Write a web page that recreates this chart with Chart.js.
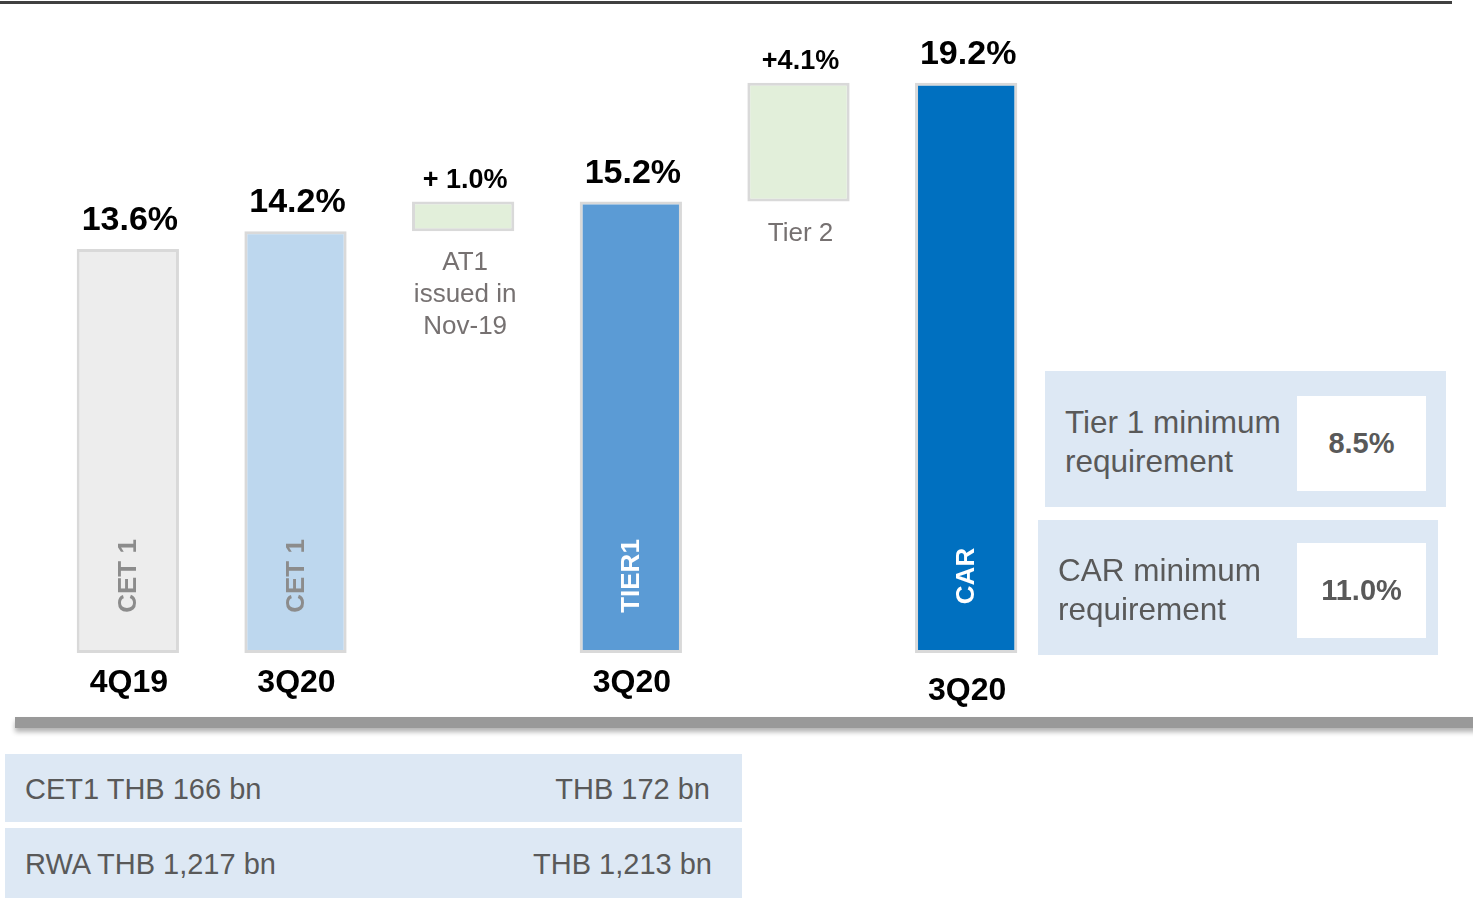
<!DOCTYPE html>
<html>
<head>
<meta charset="utf-8">
<script src="https://cdn.jsdelivr.net/npm/chart.js@4/dist/chart.umd.min.js"></script>
<style>
  body { margin: 0; background: #fff; font-family: "Liberation Sans", Arial, sans-serif; }
  #wrap { position: relative; width: 1473px; height: 900px; overflow: hidden; }
  #chart { position: absolute; left: 0; top: 0; }
  .topline { position: absolute; left: 0; top: 1px; width: 1452px; height: 3px; background: #404040; }
  .shadow { position: absolute; left: 15px; top: 717px; width: 1470px; height: 11px; background: #999;
            box-shadow: 0 4px 5px rgba(0,0,0,0.3); }
  .box { position: absolute; background: #dde8f4; color: #595959; }
  .box .txt { position: absolute; font-size: 31.5px; line-height: 39px; }
  .box .val { position: absolute; background: #fff; font-weight: bold; font-size: 29px;
              display: flex; align-items: center; justify-content: center; }
  .row { position: absolute; left: 5px; width: 737px; background: #dde8f4; color: #595959; font-size: 29px; }
  .row span { position: absolute; top: 50%; transform: translateY(-46%); }
</style>
</head>
<body>
<div id="wrap">
  <div class="topline"></div>
  <canvas id="chart" width="1060" height="720"></canvas>
  <div class="shadow"></div>

  <div class="box" style="left:1045px; top:371px; width:401px; height:136px;">
    <div class="txt" style="left:20px; top:32px;">Tier 1 minimum<br>requirement</div>
    <div class="val" style="left:252px; top:25px; width:129px; height:95px;">8.5%</div>
  </div>
  <div class="box" style="left:1038px; top:520px; width:400px; height:135px;">
    <div class="txt" style="left:20px; top:31px;">CAR minimum<br>requirement</div>
    <div class="val" style="left:259px; top:23px; width:129px; height:95px;">11.0%</div>
  </div>

  <div class="row" style="top:754px; height:68px;">
    <span style="left:20px;">CET1 THB 166 bn</span>
    <span style="right:32px;">THB 172 bn</span>
  </div>
  <div class="row" style="top:828px; height:70px;">
    <span style="left:20px;">RWA THB 1,217 bn</span>
    <span style="right:30px;">THB 1,213 bn</span>
  </div>
</div>

<script>
// capital ratios (%), floating bars are [start, end]
const categories = ["4Q19", "3Q20", "", "3Q20", "", "3Q20"];
const barRanges = [[0, 13.6], [0, 14.2], [14.2, 15.2], [0, 15.2], [15.2, 19.2], [0, 19.2]];
const valueLabels = ["13.6%", "14.2%", "+ 1.0%", "15.2%", "+4.1%", "19.2%"];
const innerLabels = ["CET 1", "CET 1", "", "TIER1", "", "CAR"];
const noteLabels = ["", "", ["AT1", "issued in", "Nov-19"], "", ["Tier 2"], ""];

const fills = ["#ededed", "#bdd7ee", "#e2efda", "#5b9bd5", "#e2efda", "#0070c0"];
const innerColors = ["#8c8c8c", "#8c8c8c", "", "#ffffff", "", "#ffffff"];

const FONT = '"Liberation Sans", Arial, sans-serif';

const labelPlugin = {
  id: "labels",
  afterDatasetsDraw(chart) {
    const ctx = chart.ctx;
    const meta = chart.getDatasetMeta(0);
    meta.data.forEach(function(bar, i) {
      const floating = barRanges[i][0] > 0;
      ctx.save();
      ctx.textAlign = "center";
      ctx.textBaseline = "alphabetic";
      ctx.fillStyle = "#000";
      ctx.font = (floating ? "bold 27px " : "bold 34px ") + FONT;
      ctx.fillText(valueLabels[i], bar.x + 2, bar.y - (floating ? 14 : 19));

      if (categories[i]) {
        ctx.font = "bold 32px " + FONT;
        ctx.textBaseline = "middle";
        ctx.fillText(categories[i], bar.x + 1, bar.base + (i === 5 ? 38 : 30));
      }

      if (innerLabels[i]) {
        ctx.translate(bar.x + 1, bar.base - 77);
        ctx.rotate(-Math.PI / 2);
        ctx.font = "bold 26px " + FONT;
        ctx.fillStyle = innerColors[i];
        ctx.textBaseline = "middle";
        ctx.fillText(innerLabels[i], 0, 0);
      }

      if (noteLabels[i]) {
        ctx.font = "26px " + FONT;
        ctx.fillStyle = "#767171";
        ctx.textBaseline = "middle";
        noteLabels[i].forEach(function(line, k) {
          ctx.fillText(line, bar.x + 2, bar.base + 32 + k * 32);
        });
      }
      ctx.restore();
    });
  }
};

new Chart(document.getElementById("chart").getContext("2d"), {
  type: "bar",
  data: {
    labels: categories.map(function(c, i) { return c || ("step" + i); }),
    datasets: [{
      data: barRanges,
      backgroundColor: fills,
      borderColor: "#d9d9d9",
      borderWidth: 3,
      borderSkipped: false,
      barPercentage: 0.61,
      categoryPercentage: 1
    }]
  },
  options: {
    responsive: false,
    devicePixelRatio: 1,
    animation: false,
    layout: { padding: { left: 44, right: 10, top: 59, bottom: 67 } },
    plugins: { legend: { display: false }, tooltip: { enabled: false } },
    scales: {
      x: { display: false },
      y: { display: false, min: 0, max: 20 }
    }
  },
  plugins: [labelPlugin]
});
</script>
</body>
</html>
